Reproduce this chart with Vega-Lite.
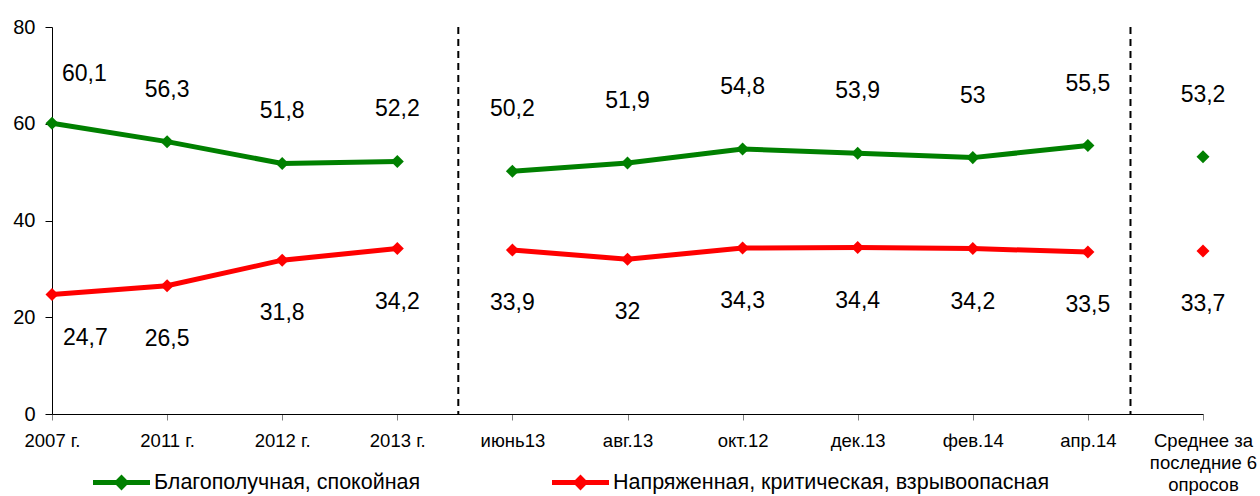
{
  "$schema": "https://vega.github.io/schema/vega-lite/v6.json",
  "width": 1151,
  "height": 387,
  "autosize": {"type": "none"},
  "padding": {"left": 52, "top": 27, "right": 57, "bottom": 82},
  "background": "white",
  "config": {
    "font": "Liberation Sans",
    "view": {"stroke": null},
    "axisX": {"domainColor": "black", "domainWidth": 1, "tickColor": "#808080", "tickSize": 6, "labelFontSize": 18.5, "labelColor": "black", "labelPadding": 11, "labelLineHeight": 22, "grid": false, "title": null},
    "axisY": {"domainColor": "black", "domainWidth": 1, "tickColor": "black", "tickSize": 7, "labelFontSize": 20, "labelColor": "black", "labelPadding": 10, "grid": false, "title": null},
    "legend": {
      "title": null,
      "orient": "none",
      "direction": "horizontal",
      "symbolType": "M-1,-0.09L-0.19,-0.09L0,-0.28L0.19,-0.09L1,-0.09L1,0.09L0.19,0.09L0,0.28L-0.19,0.09L-1,0.09Z",
      "symbolSize": 3249,
      "symbolStrokeWidth": 0,
      "symbolOpacity": 1,
      "labelFontSize": 21.5,
      "labelColor": "black",
      "labelOffset": 4,
      "labelLimit": 0,
      "columnPadding": 131
    }
  },
  "datasets": {
    "main": [
      {"i": 0, "period": "2007 г.", "part": "years", "series": "Благополучная, спокойная", "value": 60.1, "txt": "60,1"},
      {"i": 1, "period": "2011 г.", "part": "years", "series": "Благополучная, спокойная", "value": 56.3, "txt": "56,3"},
      {"i": 2, "period": "2012 г.", "part": "years", "series": "Благополучная, спокойная", "value": 51.8, "txt": "51,8"},
      {"i": 3, "period": "2013 г.", "part": "years", "series": "Благополучная, спокойная", "value": 52.2, "txt": "52,2"},
      {"i": 4, "period": "июнь13", "part": "surveys", "series": "Благополучная, спокойная", "value": 50.2, "txt": "50,2"},
      {"i": 5, "period": "авг.13", "part": "surveys", "series": "Благополучная, спокойная", "value": 51.9, "txt": "51,9"},
      {"i": 6, "period": "окт.12", "part": "surveys", "series": "Благополучная, спокойная", "value": 54.8, "txt": "54,8"},
      {"i": 7, "period": "дек.13", "part": "surveys", "series": "Благополучная, спокойная", "value": 53.9, "txt": "53,9"},
      {"i": 8, "period": "фев.14", "part": "surveys", "series": "Благополучная, спокойная", "value": 53, "txt": "53"},
      {"i": 9, "period": "апр.14", "part": "surveys", "series": "Благополучная, спокойная", "value": 55.5, "txt": "55,5"},
      {"i": 10, "period": "Среднее за последние 6 опросов", "part": "avg", "series": "Благополучная, спокойная", "value": 53.2, "txt": "53,2"},
      {"i": 0, "period": "2007 г.", "part": "years", "series": "Напряженная, критическая, взрывоопасная", "value": 24.7, "txt": "24,7"},
      {"i": 1, "period": "2011 г.", "part": "years", "series": "Напряженная, критическая, взрывоопасная", "value": 26.5, "txt": "26,5"},
      {"i": 2, "period": "2012 г.", "part": "years", "series": "Напряженная, критическая, взрывоопасная", "value": 31.8, "txt": "31,8"},
      {"i": 3, "period": "2013 г.", "part": "years", "series": "Напряженная, критическая, взрывоопасная", "value": 34.2, "txt": "34,2"},
      {"i": 4, "period": "июнь13", "part": "surveys", "series": "Напряженная, критическая, взрывоопасная", "value": 33.9, "txt": "33,9"},
      {"i": 5, "period": "авг.13", "part": "surveys", "series": "Напряженная, критическая, взрывоопасная", "value": 32, "txt": "32"},
      {"i": 6, "period": "окт.12", "part": "surveys", "series": "Напряженная, критическая, взрывоопасная", "value": 34.3, "txt": "34,3"},
      {"i": 7, "period": "дек.13", "part": "surveys", "series": "Напряженная, критическая, взрывоопасная", "value": 34.4, "txt": "34,4"},
      {"i": 8, "period": "фев.14", "part": "surveys", "series": "Напряженная, критическая, взрывоопасная", "value": 34.2, "txt": "34,2"},
      {"i": 9, "period": "апр.14", "part": "surveys", "series": "Напряженная, критическая, взрывоопасная", "value": 33.5, "txt": "33,5"},
      {"i": 10, "period": "Среднее за последние 6 опросов", "part": "avg", "series": "Напряженная, критическая, взрывоопасная", "value": 33.7, "txt": "33,7"}
    ],
    "dividers": [{"i": 3.53}, {"i": 9.37}]
  },
  "encoding": {
    "x": {
      "field": "i",
      "type": "quantitative",
      "scale": {"domain": [0, 10], "nice": false, "zero": false},
      "axis": {
        "values": [0, 1, 2, 3, 4, 5, 6, 7, 8, 9, 10],
        "labelExpr": "[['2007 г.'], ['2011 г.'], ['2012 г.'], ['2013 г.'], ['июнь13'], ['авг.13'], ['окт.12'], ['дек.13'], ['фев.14'], ['апр.14'], ['Среднее за', 'последние 6', 'опросов']][datum.value]",
        "labelFlush": false,
        "labelOverlap": false
      }
    }
  },
  "layer": [
    {
      "data": {"name": "dividers"},
      "mark": {"type": "rule", "color": "black", "strokeWidth": 2, "strokeDash": [7, 5]},
      "encoding": {}
    },
    {
      "data": {"name": "main"},
      "mark": {"type": "line", "strokeWidth": 5},
      "encoding": {
        "y": {"field": "value", "type": "quantitative", "scale": {"domain": [0, 80], "nice": false}, "axis": {"values": [0, 20, 40, 60, 80]}},
        "color": {"field": "series", "type": "nominal", "scale": {"domain": ["Благополучная, спокойная", "Напряженная, критическая, взрывоопасная"], "range": ["#008000", "#FF0000"]}, "legend": {"legendX": 41, "legendY": 427}},
        "detail": {"field": "part"}
      }
    },
    {
      "data": {"name": "main"},
      "mark": {"type": "point", "shape": "diamond", "filled": true, "size": 170, "opacity": 1},
      "encoding": {
        "y": {"field": "value", "type": "quantitative", "scale": {"domain": [0, 80], "nice": false}, "axis": {"values": [0, 20, 40, 60, 80]}},
        "color": {"field": "series", "type": "nominal", "scale": {"domain": ["Благополучная, спокойная", "Напряженная, критическая, взрывоопасная"], "range": ["#008000", "#FF0000"]}, "legend": {"legendX": 41, "legendY": 427}}
      }
    },
    {
      "data": {"name": "main"},
      "transform": [{"filter": "datum.series === 'Благополучная, спокойная' && datum.i === 0"}],
      "mark": {"type": "text", "fontSize": 23, "align": "left", "baseline": "middle", "dx": 10, "dy": -49, "color": "black"},
      "encoding": {
        "y": {"field": "value", "type": "quantitative", "scale": {"domain": [0, 80], "nice": false}, "axis": {"values": [0, 20, 40, 60, 80]}},
        "text": {"field": "txt"}
      }
    },
    {
      "data": {"name": "main"},
      "transform": [{"filter": "datum.series === 'Благополучная, спокойная' && datum.i > 0 && datum.i <= 3"}],
      "mark": {"type": "text", "fontSize": 23, "align": "center", "baseline": "middle", "dy": -52, "color": "black"},
      "encoding": {
        "y": {"field": "value", "type": "quantitative", "scale": {"domain": [0, 80], "nice": false}, "axis": {"values": [0, 20, 40, 60, 80]}},
        "text": {"field": "txt"}
      }
    },
    {
      "data": {"name": "main"},
      "transform": [{"filter": "datum.series === 'Благополучная, спокойная' && datum.i > 3"}],
      "mark": {"type": "text", "fontSize": 23, "align": "center", "baseline": "middle", "dy": -62, "color": "black"},
      "encoding": {
        "y": {"field": "value", "type": "quantitative", "scale": {"domain": [0, 80], "nice": false}, "axis": {"values": [0, 20, 40, 60, 80]}},
        "text": {"field": "txt"}
      }
    },
    {
      "data": {"name": "main"},
      "transform": [{"filter": "datum.series !== 'Благополучная, спокойная' && datum.i === 0"}],
      "mark": {"type": "text", "fontSize": 23, "align": "left", "baseline": "middle", "dx": 11, "dy": 43, "color": "black"},
      "encoding": {
        "y": {"field": "value", "type": "quantitative", "scale": {"domain": [0, 80], "nice": false}, "axis": {"values": [0, 20, 40, 60, 80]}},
        "text": {"field": "txt"}
      }
    },
    {
      "data": {"name": "main"},
      "transform": [{"filter": "datum.series !== 'Благополучная, спокойная' && datum.i > 0"}],
      "mark": {"type": "text", "fontSize": 23, "align": "center", "baseline": "middle", "dy": 53, "color": "black"},
      "encoding": {
        "y": {"field": "value", "type": "quantitative", "scale": {"domain": [0, 80], "nice": false}, "axis": {"values": [0, 20, 40, 60, 80]}},
        "text": {"field": "txt"}
      }
    }
  ]
}
